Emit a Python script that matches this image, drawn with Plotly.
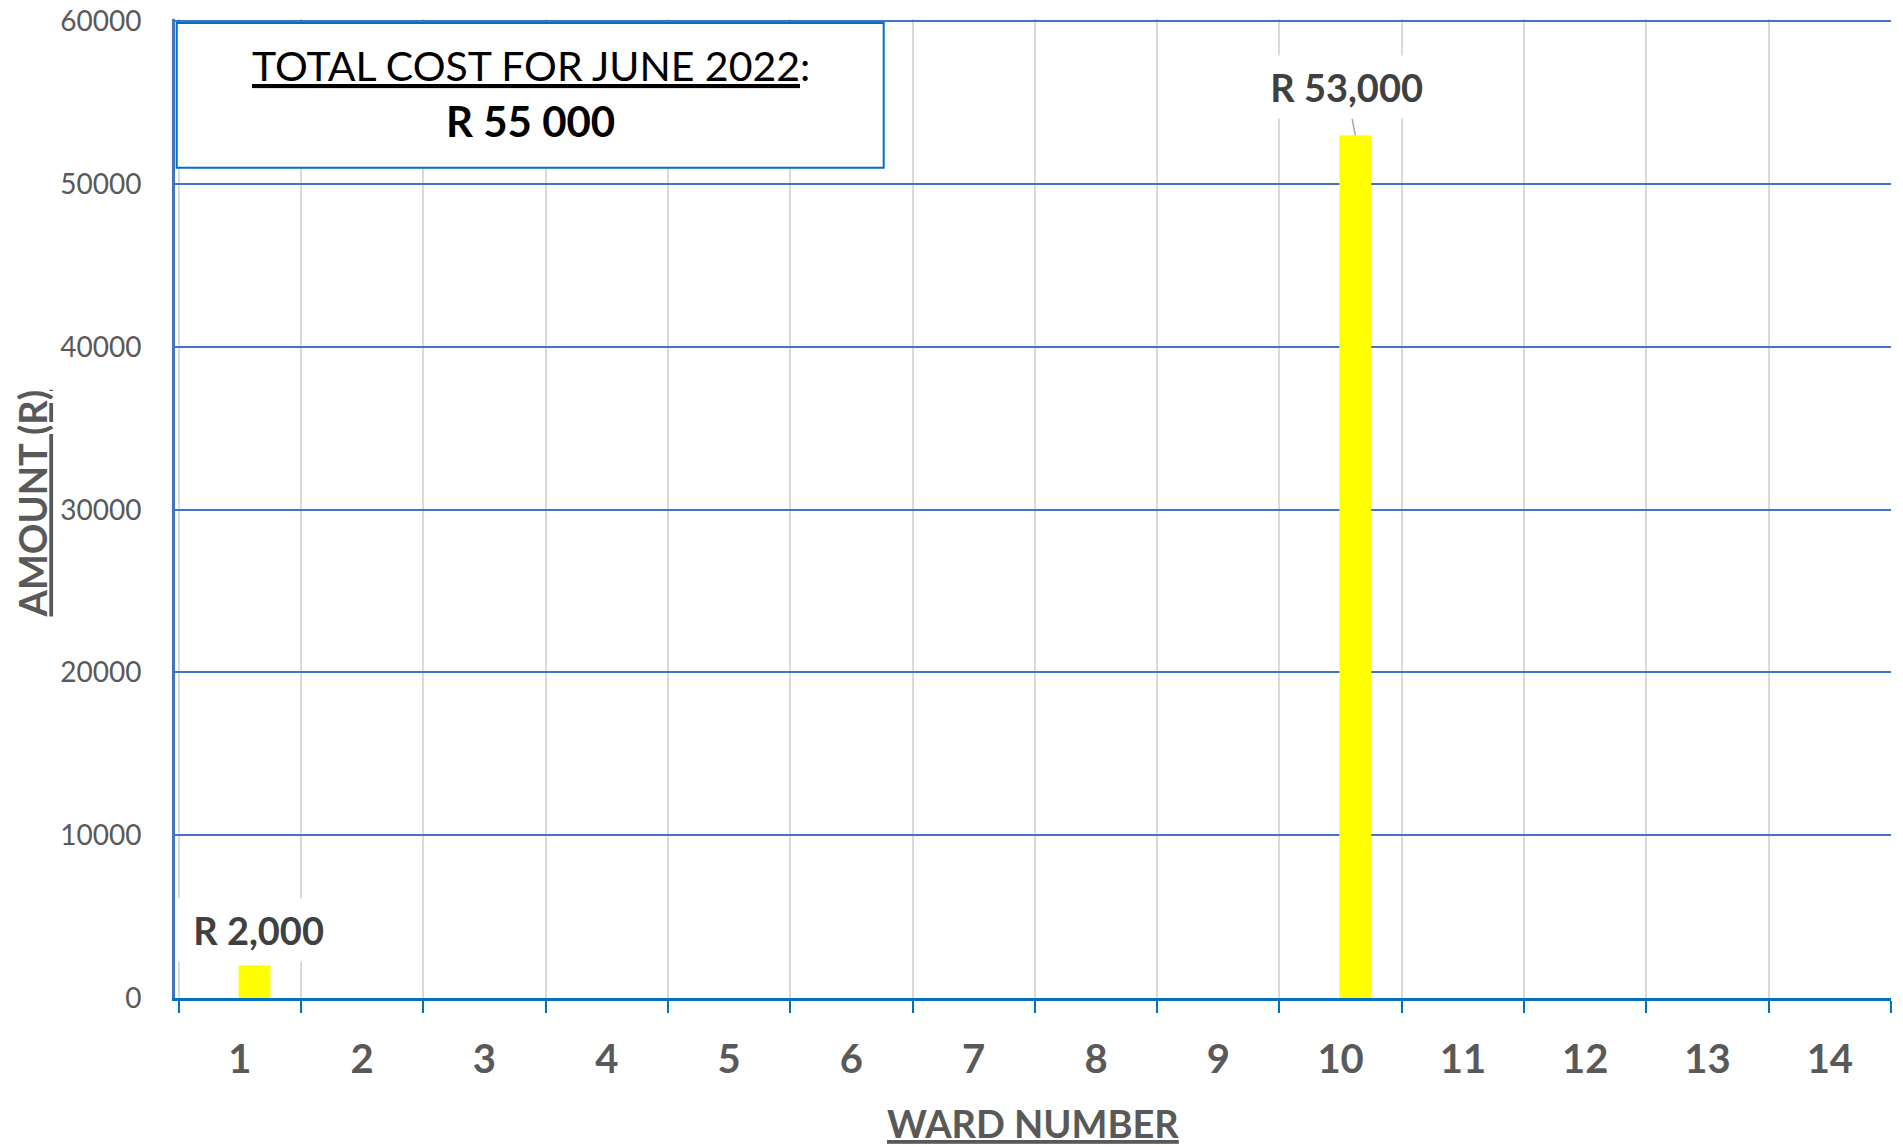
import plotly.graph_objects as go

# Ward costs for the month (R)
wards = [str(i) for i in range(1, 15)]
amounts = [2000, 0, 0, 0, 0, 0, 0, 0, 0, 53000, 0, 0, 0, 0]
y_ticks = [0, 10000, 20000, 30000, 40000, 50000, 60000]
period = "JUNE 2022"

total = sum(amounts)
total_text = "R " + f"{total:,}".replace(",", " ")

FONT = "Lato"
GREY = "#595959"
NBSP = "\u00a0"

fig = go.Figure()
fig.add_trace(go.Bar(
    x=wards, y=amounts,
    marker=dict(color="#FFFF00", line=dict(width=0)),
    width=0.26, offset=-0.01,
    hoverinfo="x+y",
))

# data labels (only for wards that have a cost), white background like excel
label_shift = {0: (4, -35), 9: (-9, -48)}
for i, v in enumerate(amounts):
    if v == 0:
        continue
    ax, ay = label_shift.get(i, (0, -35))
    fig.add_annotation(
        x=i + 0.12, y=v, xref="x", yref="y",
        text=NBSP + "R " + f"{v:,}" + NBSP,
        showarrow=True, arrowhead=0, arrowwidth=1.5, standoff=0,
        arrowcolor="#A6A6A6" if i == 9 else "rgba(0,0,0,0)",
        ax=ax, ay=ay,
        bgcolor="white", borderpad=8,
        font=dict(family=FONT, size=38, color="#404040", weight="bold"),
    )

# total cost box
fig.add_shape(type="rect", xref="paper", yref="paper",
              x0=0.001, x1=0.413, y0=0.848, y1=0.996,
              line=dict(color="#0070C0", width=2), fillcolor="white", layer="above")
fig.add_annotation(x=0.2073, y=0.953, xref="paper", yref="paper", showarrow=False,
                   xanchor="center", yanchor="middle",
                   text="<u>TOTAL COST FOR " + period + "</u>:",
                   font=dict(family=FONT, size=41, color="black"))
fig.add_annotation(x=0.2073, y=0.896, xref="paper", yref="paper", showarrow=False,
                   xanchor="center", yanchor="middle",
                   text="<b>" + total_text + "</b>",
                   font=dict(family=FONT, size=42, color="black"))

# axis titles
fig.add_annotation(x=0.5, y=-0.128, xref="paper", yref="paper", showarrow=False,
                   xanchor="center", yanchor="middle",
                   text="<u>WARD NUMBER</u>",
                   font=dict(family=FONT, size=38, color=GREY, weight="bold"))
fig.add_annotation(x=-0.0834, y=0.505, xref="paper", yref="paper", showarrow=False,
                   xanchor="center", yanchor="middle",
                   text="<u>AMOUNT (R)</u>", textangle=-90,
                   font=dict(family=FONT, size=38, color=GREY, weight="bold"))

fig.update_xaxes(
    type="category", tickson="boundaries", automargin=False,
    showgrid=True, gridcolor="#D9D9D9", gridwidth=2,
    ticks="outside", ticklen=12, tickwidth=2, tickcolor="#0070C0",
    showline=True, linecolor="#0070C0", linewidth=3,
    tickfont=dict(family=FONT, size=40, color=GREY, weight="bold"),
    ticklabelstandoff=24,
)
# a little headroom above 60000 so its grid line is not clipped at the edge
fig.update_yaxes(
    range=[0, 60150], tickvals=y_ticks, tickformat="d", automargin=False,
    showgrid=True, gridcolor="#4472C4", gridwidth=2,
    zeroline=False,
    showline=True, linecolor="#4472C4", linewidth=3,
    tickfont=dict(family=FONT, size=28, color=GREY),
    ticklabelstandoff=25, ticklabeloverflow="allow",
)
# page adds an 8px body margin, so the figure is a bit smaller than the window
fig.update_layout(
    width=1895, height=1139,
    margin=dict(l=167, r=12, t=10.5, b=149),
    plot_bgcolor="white", paper_bgcolor="white",
    showlegend=False,
)

fig.write_html("out.html")
